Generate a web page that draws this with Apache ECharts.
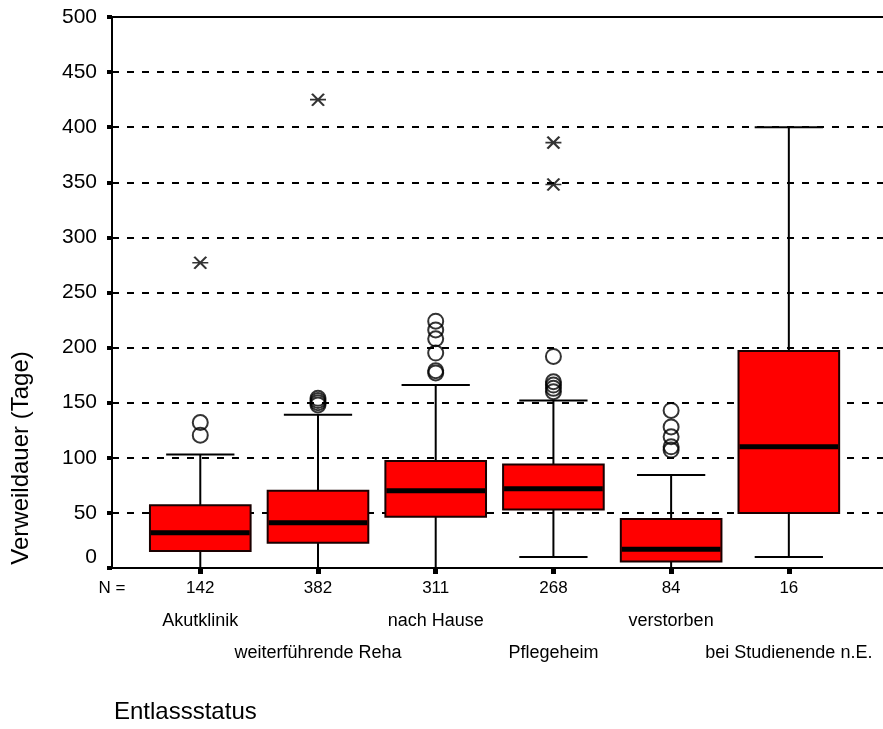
<!DOCTYPE html>
<html>
<head>
<meta charset="utf-8">
<script src="https://cdn.jsdelivr.net/npm/echarts@6/dist/echarts.min.js"></script>
<style>
html,body{margin:0;padding:0;background:#fff;}
#chart{width:883px;height:729px;}
</style>
</head>
<body>
<div id="chart"></div>
<script>
// ---- Data ----
const categories = ['Akutklinik', 'weiterführende Reha', 'nach Hause', 'Pflegeheim', 'verstorben', 'bei Studienende n.E.'];
const counts = [142, 382, 311, 268, 84, 16];
const whiskerLow = [0, 0, 0, 10, 0, 10];
const q1 = [15.5, 23, 46.5, 53, 6, 50];
const median = [32, 41, 70, 72, 17, 110];
const q3 = [57, 70, 97, 94, 44.5, 197];
const whiskerHigh = [103, 139, 166, 152, 84.5, 400];
const outliers = [
  [132, 120.5],
  [148, 150, 152, 154],
  [224, 216, 208, 195, 179, 177],
  [192, 169, 166, 163, 160],
  [143, 128, 119, 110, 107],
  []
];
const extremes = [
  [277],
  [425],
  [],
  [386, 348],
  [],
  []
];
const yTicks = [0, 50, 100, 150, 200, 250, 300, 350, 400, 450, 500];

// ---- Build series data ----
const boxData = categories.map((c, i) => [i, whiskerLow[i], q1[i], median[i], q3[i], whiskerHigh[i]]);
const outlierData = [];
outliers.forEach((arr, i) => arr.forEach(v => outlierData.push([i, v])));
const extremeData = [];
extremes.forEach((arr, i) => arr.forEach(v => extremeData.push([i, v])));
const catIdx = categories.map((c, i) => i);
const row1 = catIdx.filter(i => i % 2 === 0);
const row2 = catIdx.filter(i => i % 2 === 1);

const FONT = 'Liberation Sans';
const xMin = -0.75, xMax = 5.8;

function renderBox(params, api) {
  const x = api.value(0);
  const lo = api.coord([x, api.value(1)]);
  const b1 = api.coord([x, api.value(2)]);
  const md = api.coord([x, api.value(3)]);
  const b3 = api.coord([x, api.value(4)]);
  const hi = api.coord([x, api.value(5)]);
  const unit = api.size([1, 0])[0];
  const bw = unit * 0.855, cw = unit * 0.58;
  const cx = lo[0];
  const ls = {stroke: '#000', lineWidth: 2};
  return {
    type: 'group',
    children: [
      {type: 'line', shape: {x1: cx, y1: hi[1], x2: cx, y2: b3[1]}, style: ls},
      {type: 'line', shape: {x1: cx, y1: b1[1], x2: cx, y2: lo[1]}, style: ls},
      {type: 'line', shape: {x1: cx - cw / 2, y1: hi[1], x2: cx + cw / 2, y2: hi[1]}, style: ls},
      {type: 'line', shape: {x1: cx - cw / 2, y1: lo[1], x2: cx + cw / 2, y2: lo[1]}, style: ls},
      {type: 'rect', shape: {x: cx - bw / 2, y: b3[1], width: bw, height: b1[1] - b3[1]},
        style: {fill: '#ff0000', stroke: '#1a0000', lineWidth: 2}},
      {type: 'line', shape: {x1: cx - bw / 2 + 1, y1: md[1], x2: cx + bw / 2 - 1, y2: md[1]},
        style: {stroke: '#000', lineWidth: 5}}
    ]
  };
}

const chart = echarts.init(document.getElementById('chart'), null, {renderer: 'canvas'});
const baseX = {
  type: 'value', min: xMin, max: xMax, splitLine: {show: false}
};
chart.setOption({
  animation: false,
  backgroundColor: '#ffffff',
  grid: {left: 112, right: 0, top: 17, bottom: 161, containLabel: false},
  xAxis: [
    Object.assign({}, baseX, {
      position: 'bottom',
      axisLine: {show: true, onZero: false, lineStyle: {color: '#000', width: 2}},
      axisTick: {show: true, customValues: catIdx, length: 6, lineStyle: {color: '#000', width: 5}},
      axisLabel: {
        customValues: [xMin].concat(catIdx), margin: 12, color: '#000', fontFamily: FONT, fontSize: 17,
        showMinLabel: true, showMaxLabel: true,
        formatter: v => (v < 0 ? 'N =' : String(counts[Math.round(v)]))
      }
    }),
    Object.assign({}, baseX, {
      position: 'bottom', offset: 32,
      axisLine: {show: false}, axisTick: {show: false},
      axisLabel: {customValues: row1, margin: 12, color: '#000', fontFamily: FONT, fontSize: 18,
        formatter: v => categories[Math.round(v)]}
    }),
    Object.assign({}, baseX, {
      position: 'bottom', offset: 64,
      axisLine: {show: false}, axisTick: {show: false},
      axisLabel: {customValues: row2, margin: 12, color: '#000', fontFamily: FONT, fontSize: 18,
        formatter: v => categories[Math.round(v)]}
    }),
    Object.assign({}, baseX, {
      position: 'top',
      axisLine: {show: true, onZero: false, lineStyle: {color: '#000', width: 2}},
      axisTick: {show: false}, axisLabel: {show: false}
    })
  ],
  yAxis: {
    type: 'value', min: 0, max: 500, interval: 50,
    axisLine: {show: true, onZero: false, lineStyle: {color: '#000', width: 2}},
    axisTick: {show: true, length: 5, lineStyle: {color: '#000', width: 4}},
    axisLabel: {
      margin: 15, color: '#000', fontFamily: FONT, fontSize: 21,
      formatter: v => (v === 0 ? '{z|0}' : String(v)),
      rich: {z: {fontFamily: FONT, fontSize: 21, color: '#000', padding: [0, 0, 22, 0]}}
    },
    splitLine: {show: true, lineStyle: {color: '#000', width: 2, type: [7, 8]}}
  },
  graphic: [
    {type: 'text', x: 21, y: 458, rotation: Math.PI / 2,
      style: {text: 'Verweildauer (Tage)', font: '24px "Liberation Sans"', fill: '#000', align: 'center', verticalAlign: 'middle'}},
    {type: 'text', left: 114, top: 700,
      style: {text: 'Entlassstatus', font: '24px "Liberation Sans"', fill: '#000'}}
  ],
  series: [
    {type: 'custom', xAxisIndex: 0, yAxisIndex: 0, renderItem: renderBox, data: boxData, z: 3, clip: false},
    {type: 'scatter', xAxisIndex: 0, yAxisIndex: 0, data: outlierData, symbol: 'circle', symbolSize: 15, z: 4,
      itemStyle: {color: 'rgba(0,0,0,0)', borderColor: '#000', borderWidth: 2}},
    {type: 'scatter', xAxisIndex: 0, yAxisIndex: 0, data: extremeData,
      symbol: 'path://M0 6 L16 6 M2 0 L14 12 M14 0 L2 12', symbolSize: [16, 12], z: 4,
      itemStyle: {color: 'rgba(0,0,0,0)', borderColor: '#000', borderWidth: 2}}
  ]
});
</script>
</body>
</html>
